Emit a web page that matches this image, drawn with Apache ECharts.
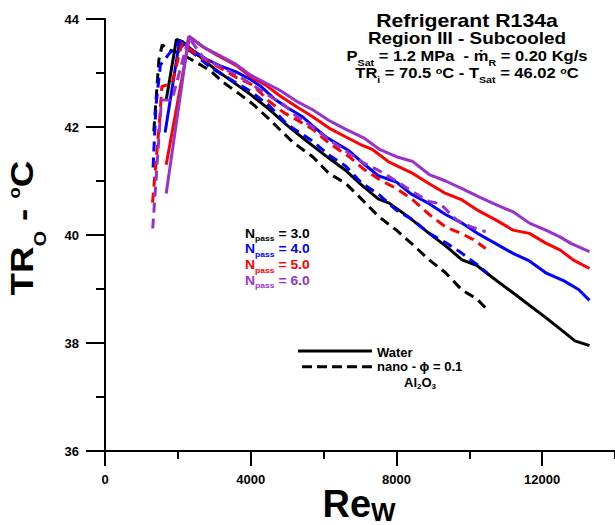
<!DOCTYPE html>
<html lang="en">
<head>
<meta charset="UTF-8">
<title>TRo vs Re_w - R134a Region III</title>
<style>
  html, body { margin: 0; padding: 0; background: #fff; }
  #chart { width: 615px; height: 525px; }
</style>
</head>
<body>
<div id="chart"></div>
<script src="https://cdn.jsdelivr.net/npm/echarts@6/dist/echarts.min.js"></script>
<script>
// [Re_w, TR_o], one array per run
const water3 = [[1680,42.50],[1960,43.62],[2130,43.58],[2500,43.36],[3000,43.08],[3500,42.84],[4000,42.60],[4500,42.33],[5000,42.03],[5500,41.76],[6150,41.42],[6600,41.20],[7000,40.95],[7500,40.67],[7800,40.59],[8300,40.35],[8900,40.03],[9400,39.77],[9800,39.54],[10200,39.44],[10700,39.18],[11200,38.93],[11650,38.70],[12100,38.47],[12550,38.23],[12900,38.04],[13300,37.95]];
const water4 = [[1650,41.90],[2050,43.60],[2400,43.42],[2800,43.25],[3200,43.12],[3600,43.02],[4000,42.88],[4300,42.74],[4650,42.52],[5000,42.36],[5400,42.20],[5700,42.02],[6100,41.80],[6700,41.56],[7100,41.32],[7500,41.10],[8000,40.98],[8400,40.76],[8900,40.58],[9350,40.38],[9800,40.22],[10250,40.02],[10700,39.85],[11200,39.66],[11650,39.52],[12100,39.30],[12600,39.15],[13000,38.99],[13300,38.79]];
const water5 = [[1680,41.30],[2320,43.67],[2700,43.48],[3100,43.32],[3600,43.14],[4000,42.93],[4400,42.78],[4800,42.58],[5250,42.38],[5700,42.19],[6150,41.98],[6600,41.82],[7000,41.68],[7350,41.58],[7800,41.35],[8450,41.14],[8900,40.95],[9350,40.77],[9800,40.65],[10250,40.45],[10700,40.29],[11200,40.09],[11650,40.03],[12100,39.85],[12500,39.72],[12850,39.54],[13300,39.38]];
const water6 = [[1680,40.77],[2300,43.68],[2700,43.48],[3100,43.34],[3600,43.16],[4000,42.96],[4400,42.82],[4800,42.68],[5250,42.48],[5700,42.32],[6150,42.12],[6600,41.96],[7100,41.80],[7550,41.58],[8000,41.45],[8450,41.36],[8900,41.12],[9350,41.00],[9800,40.86],[10250,40.71],[10700,40.57],[11200,40.43],[11650,40.22],[12100,40.09],[12500,39.96],[12800,39.84],[13300,39.69]];

const nano3 = [[1340,41.92],[1480,43.25],[1570,43.52],[1800,43.42],[2050,43.37],[2500,43.20],[2900,43.04],[3200,42.85],[3550,42.68],[4050,42.43],[4500,42.15],[5150,41.72],[5700,41.45],[6150,41.14],[6600,40.96],[7050,40.66],[7500,40.35],[8000,40.09],[8450,39.82],[8900,39.54],[9350,39.30],[9800,38.98],[10200,38.82],[10550,38.58]];
const nano4 = [[1320,41.25],[1400,42.40],[1520,43.15],[2000,43.56],[2400,43.38],[2900,43.10],[3500,42.86],[4000,42.66],[4500,42.40],[5000,42.05],[5700,41.74],[6150,41.48],[6600,41.28],[7050,40.96],[7500,40.76],[8000,40.46],[8450,40.28],[8900,40.03],[9350,39.86],[9800,39.66],[10200,39.46],[10500,39.29]];
const nano5 = [[1305,40.60],[1500,42.13],[1560,42.75],[1840,42.81],[2110,43.55],[2600,43.30],[3150,43.10],[3600,42.92],[4050,42.78],[4500,42.48],[4900,42.27],[5400,42.08],[5700,41.96],[6150,41.70],[6700,41.45],[7100,41.22],[7550,41.02],[8000,40.86],[8450,40.65],[8900,40.38],[9350,40.15],[9800,40.02],[10100,39.92],[10450,39.75]];
const nano6 = [[1310,40.12],[1550,42.50],[1840,42.50],[2300,43.66],[2700,43.28],[3150,43.12],[3600,42.97],[4050,42.78],[4500,42.58],[4900,42.42],[5250,42.20],[5700,42.00],[6150,41.76],[6600,41.56],[7050,41.35],[7500,41.20],[8000,41.00],[8450,40.80],[8900,40.62],[9200,40.58],[9650,40.28],[10050,40.15],[10450,40.06]];

const passes = ['3.0', '4.0', '5.0', '6.0'];
const waterRuns = [water3, water4, water5, water6];
const nanoRuns = [nano3, nano4, nano5, nano6];

const colors = ['#000000', '#0000ff', '#ff0000', '#9932cc'];
const font = '"Liberation Sans", Arial, sans-serif';

function run(name, data, color, dashed) {
    return {
        name: name,
        type: 'line',
        data: data,
        symbol: 'none',
        lineStyle: { color: color, width: 3, type: dashed ? [10, 6] : 'solid' },
        itemStyle: { color: color },
        animation: false
    };
}

const series = [];
passes.forEach((p, i) => {
    series.push(run('Water Npass=' + p, waterRuns[i], colors[i], false));
    series.push(run('Al2O3 Npass=' + p, nanoRuns[i], colors[i], true));
});

const chart = echarts.init(document.getElementById('chart'), null, { renderer: 'svg' });

const tickLabel = { color: '#000', fontWeight: 'bold', fontSize: 13, fontFamily: font };
const black2 = { color: '#000', width: 2 };

// subscript / superscript rich styles
function rich(size, subSize, lh, subLh) {
    return {
        b: { fontSize: size, fontWeight: 'bold', fontFamily: font, fill: '#000', lineHeight: lh, verticalAlign: 'top' },
        s: { fontSize: subSize, fontWeight: 'bold', fontFamily: font, fill: '#000', lineHeight: subLh, verticalAlign: 'bottom' },
        u: { fontSize: subSize, fontWeight: 'bold', fontFamily: font, fill: '#000', lineHeight: subSize, verticalAlign: 'top' }
    };
}

const titleRich = rich(14, 9, 16, 18);

const passTexts = passes.map((p, i) => ({
    type: 'text',
    x: 0,
    y: 235 + i * 15.6,
    style: {
        text: '{n|N}{p|pass}{n| = ' + p + '}',
        align: 'left',
        verticalAlign: 'middle',
        rich: {
            n: { fontSize: 13, fontWeight: 'bold', fontFamily: font, fill: colors[i], lineHeight: 15, verticalAlign: 'top' },
            p: { fontSize: 8, fontWeight: 'bold', fontFamily: font, fill: colors[i], lineHeight: 16, verticalAlign: 'bottom' }
        }
    }
}));

const option = {
    backgroundColor: '#fff',
    animation: false,
    grid: { left: 105, right: 0, top: 19, bottom: 74, containLabel: false, outerBoundsMode: 'none' },
    xAxis: [{
        type: 'value', min: 0, max: 14000, interval: 4000,
        axisLine: { show: true, onZero: false, lineStyle: black2 },
        axisTick: { show: true, length: 15, lineStyle: black2 },
        axisLabel: Object.assign({ margin: 22, showMaxLabel: false, formatter: v => String(v) }, tickLabel),
        splitLine: { show: false }
    }, {
        type: 'value', min: 0, max: 14000, interval: 2000, position: 'bottom',
        axisLine: { show: false, onZero: false },
        axisTick: { show: true, length: 8, lineStyle: black2 },
        axisLabel: { show: false },
        splitLine: { show: false }
    }],
    yAxis: {
        type: 'value', min: 36, max: 44, interval: 2,
        axisLine: { show: true, onZero: false, lineStyle: black2 },
        axisTick: { show: true, length: 19, lineStyle: black2 },
        minorTick: { show: true, splitNumber: 2, length: 9, lineStyle: black2 },
        axisLabel: Object.assign({ margin: 26 }, tickLabel),
        splitLine: { show: false },
        minorSplitLine: { show: false }
    },
    series: series,
    graphic: [
        // axis titles
        {
            type: 'text', x: 27, y: 228, rotation: Math.PI / 2, scaleX: 1.15,
            style: {
                text: '{t|TR}{s|O}{t| - }{u|o}{t|C}',
                align: 'center', verticalAlign: 'middle',
                rich: {
                    t: { fontSize: 32, fontWeight: 'bold', fontFamily: font, fill: '#000', lineHeight: 32, verticalAlign: 'top' },
                    s: { fontSize: 17, fontWeight: 'bold', fontFamily: font, fill: '#000', lineHeight: 42, verticalAlign: 'bottom' },
                    u: { fontSize: 16, fontWeight: 'bold', fontFamily: font, fill: '#000', lineHeight: 16, verticalAlign: 'top' }
                }
            }
        },
        {
            type: 'text', x: 359, y: 504.5,
            style: {
                text: '{r|Re}{w|W}',
                align: 'center', verticalAlign: 'middle',
                rich: {
                    r: { fontSize: 38, fontWeight: 'bold', fontFamily: font, fill: '#000', lineHeight: 38, verticalAlign: 'top' },
                    w: { fontSize: 26, fontWeight: 'bold', fontFamily: font, fill: '#000', lineHeight: 40, verticalAlign: 'bottom' }
                }
            }
        },
        // title block
        {
            type: 'group', x: 467, y: 0, scaleX: 1.18,
            children: [
                { type: 'text', x: 0, y: 21, style: { text: 'Refrigerant R134a', font: 'bold 18px ' + font, fill: '#000', align: 'center', verticalAlign: 'middle' } },
                { type: 'text', x: 0, y: 39, style: { text: 'Region III - Subcooled', font: 'bold 16px ' + font, fill: '#000', align: 'center', verticalAlign: 'middle' } },
                { type: 'text', x: 0, y: 57.8, style: { text: '{b|P}{s|Sat}{b| = 1.2 MPa  - ṁ}{s|R}{b| = 0.20 Kg/s}', align: 'center', verticalAlign: 'middle', rich: titleRich } },
                { type: 'text', x: 0, y: 75.1, style: { text: '{b|TR}{s|i}{b| = 70.5 }{u|o}{b|C - T}{s|Sat}{b| = 46.02 }{u|o}{b|C}', align: 'center', verticalAlign: 'middle', rich: titleRich } }
            ]
        },
        // Npass legend
        { type: 'group', x: 245, y: 0, scaleX: 1.07, children: passTexts },
        // fluid legend
        { type: 'line', shape: { x1: 298, y1: 351, x2: 372, y2: 351 }, style: { stroke: '#000', lineWidth: 3 } },
        { type: 'line', shape: { x1: 302, y1: 366.7, x2: 372, y2: 366.7 }, style: { stroke: '#000', lineWidth: 3, lineDash: [10, 5] } },
        { type: 'text', x: 377, y: 352, style: { text: 'Water', font: 'bold 13px ' + font, fill: '#000', align: 'left', verticalAlign: 'middle' } },
        { type: 'text', x: 377, y: 366.5, style: { text: 'nano - ϕ = 0.1', font: 'bold 13px ' + font, fill: '#000', align: 'left', verticalAlign: 'middle' } },
        {
            type: 'text', x: 420, y: 383,
            style: {
                text: '{b|Al}{s|2}{b|O}{s|3}', align: 'center', verticalAlign: 'middle',
                rich: rich(13, 8, 13, 15)
            }
        }
    ]
};

chart.setOption(option);
</script>
</body>
</html>
